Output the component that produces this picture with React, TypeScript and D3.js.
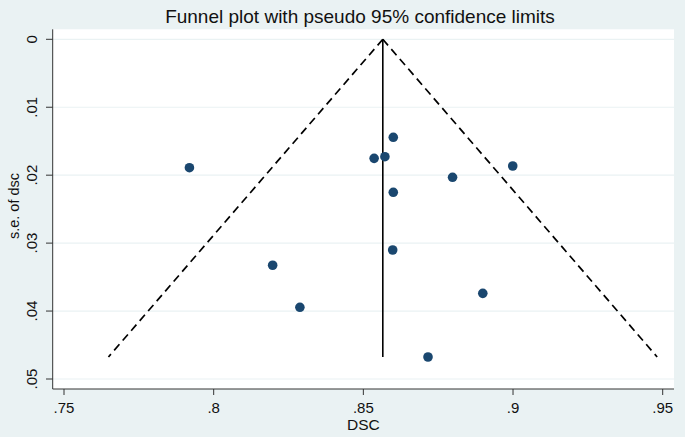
import React from "react";
import * as d3 from "d3";

const dscValues = [0.860, 0.8536, 0.8572, 0.7919, 0.8999, 0.8798, 0.860, 0.8598, 0.8197, 0.8288, 0.8899, 0.8716];
const seValues = [0.01442, 0.01752, 0.01728, 0.0189, 0.01865, 0.02031, 0.02252, 0.03101, 0.03326, 0.03945, 0.03739, 0.04676];
const pooledDsc = 0.8565;
const xTicks = [0.75, 0.8, 0.85, 0.9, 0.95];
const xTickLabels = [".75", ".8", ".85", ".9", ".95"];
const yTicks = [0, 0.01, 0.02, 0.03, 0.04, 0.05];
const yTickLabels = ["0", ".01", ".02", ".03", ".04", ".05"];
const title = "Funnel plot with pseudo 95% confidence limits";
const xTitle = "DSC";
const yTitle = "s.e. of dsc";

const W = 685;
const H = 437;
const plot = { left: 52.7, right: 674, top: 29.3, bottom: 389 };
const font = "'Liberation Sans', Arial, Helvetica, sans-serif";

export default function App() {
  const x = d3.scaleLinear().domain([0.75, 0.95]).range([64, 662.7]);
  const y = d3.scaleLinear().domain([0, 0.05]).range([39.3, 379]);
  const seMax = d3.max(seValues) as number;
  const lo = pooledDsc - 1.96 * seMax;
  const hi = pooledDsc + 1.96 * seMax;
  const line = d3.line<[number, number]>().x((d) => x(d[0])).y((d) => y(d[1]));

  return (
    <svg
      width={W}
      height={H}
      style={{ position: "absolute", left: 0, top: 0, display: "block" }}
      fontFamily={font}
    >
      <rect x={0} y={0} width={W} height={H} fill="#eaf2f3" />
      <rect
        x={plot.left}
        y={plot.top}
        width={plot.right - plot.left}
        height={plot.bottom - plot.top}
        fill="#ffffff"
      />
      {yTicks.map((t) => (
        <line
          key={"g" + t}
          x1={plot.left}
          x2={plot.right}
          y1={y(t)}
          y2={y(t)}
          stroke="#eaf2f3"
          strokeWidth={1.2}
        />
      ))}
      {/* funnel */}
      <path
        d={line([[pooledDsc, 0], [lo, seMax]]) as string}
        fill="none"
        stroke="#000"
        strokeWidth={1.7}
        strokeDasharray="8,5"
      />
      <path
        d={line([[pooledDsc, 0], [hi, seMax]]) as string}
        fill="none"
        stroke="#000"
        strokeWidth={1.7}
        strokeDasharray="8,5"
      />
      <path
        d={line([[pooledDsc, 0], [pooledDsc, seMax]]) as string}
        fill="none"
        stroke="#000"
        strokeWidth={1.6}
      />
      {dscValues.map((v, i) => (
        <circle key={i} cx={x(v)} cy={y(seValues[i])} r={4.8} fill="#1a476f" />
      ))}
      {/* axes */}
      <line x1={plot.left} x2={plot.left} y1={plot.top} y2={plot.bottom} stroke="#333" strokeWidth={1} />
      <line x1={plot.left} x2={plot.right} y1={plot.bottom} y2={plot.bottom} stroke="#333" strokeWidth={1} />
      {yTicks.map((t, i) => (
        <g key={"y" + t}>
          <line x1={46} x2={plot.left} y1={y(t)} y2={y(t)} stroke="#333" strokeWidth={1} />
          <text
            transform={`translate(37,${y(t)}) rotate(-90)`}
            textAnchor="middle"
            fontSize={15}
            fill="#111"
          >
            {yTickLabels[i]}
          </text>
        </g>
      ))}
      {xTicks.map((t, i) => (
        <g key={"x" + t}>
          <line x1={x(t)} x2={x(t)} y1={plot.bottom} y2={plot.bottom + 6} stroke="#333" strokeWidth={1} />
          <text x={x(t)} y={413} textAnchor="middle" fontSize={15} fill="#111">
            {xTickLabels[i]}
          </text>
        </g>
      ))}
      <text x={x(0.85)} y={429.5} textAnchor="middle" fontSize={15.5} fill="#111">
        {xTitle}
      </text>
      <text
        transform={`translate(18.5,206) rotate(-90)`}
        textAnchor="middle"
        fontSize={14.5}
        fill="#111"
      >
        {yTitle}
      </text>
      <text x={360} y={23.3} textAnchor="middle" fontSize={19} fill="#111">
        {title}
      </text>
    </svg>
  );
}
